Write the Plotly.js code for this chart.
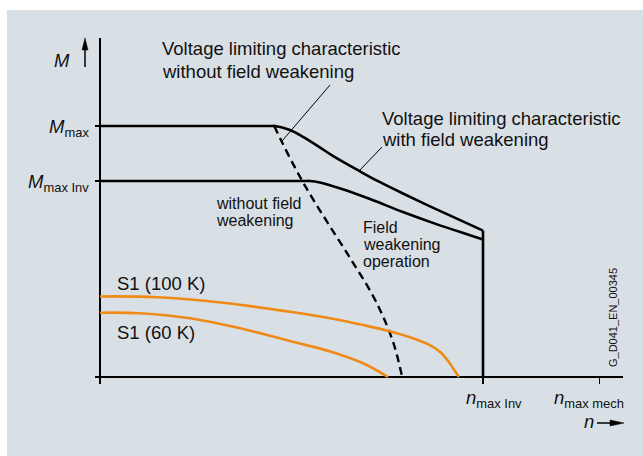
<!DOCTYPE html>
<html><head><meta charset="utf-8">
<script src="https://cdn.plot.ly/plotly-3.0.1.min.js"></script>
<style>html,body{margin:0;padding:0;background:#fff}#chart{width:643px;height:456px}</style>
</head><body><div id="chart"></div>
<script>
// speed n normalised to n_max Inv = 1, torque M normalised to M_max = 1
const withFieldWeakN = [0, 0.2, 0.4, 0.447, 0.457, 0.496, 0.530, 0.567, 0.608, 0.679, 0.726, 0.791, 0.880, 0.966, 1.0];
const withFieldWeakM = [1.0, 1.0, 1.0, 1.0, 1.0, 0.984, 0.957, 0.922, 0.881, 0.819, 0.780, 0.731, 0.667, 0.607, 0.583];

const fieldWeakOpN = [0, 0.2, 0.4, 0.536, 0.548, 0.574, 0.634, 0.705, 0.791, 0.880, 0.966, 1.0];
const fieldWeakOpM = [0.781, 0.781, 0.781, 0.781, 0.781, 0.775, 0.748, 0.709, 0.657, 0.608, 0.565, 0.548];

const limitN = [1.0, 1.0];
const limitM = [0.583, 0];

const withoutFieldWeakN = [0.455, 0.475, 0.504, 0.530, 0.556, 0.593, 0.653, 0.710, 0.739, 0.762, 0.775, 0.789];
const withoutFieldWeakM = [1.0, 0.936, 0.849, 0.776, 0.709, 0.618, 0.474, 0.331, 0.241, 0.154, 0.089, 0];

const s1_100K_N = [0, 0.149, 0.321, 0.496, 0.601, 0.687, 0.752, 0.817, 0.862, 0.888, 0.909, 0.924, 0.937];
const s1_100K_M = [0.321, 0.318, 0.296, 0.260, 0.234, 0.207, 0.184, 0.154, 0.126, 0.100, 0.064, 0.030, 0];

const s1_60K_N = [0, 0.104, 0.235, 0.366, 0.496, 0.601, 0.687, 0.752];
const s1_60K_M = [0.256, 0.254, 0.234, 0.194, 0.143, 0.102, 0.055, 0];

const tickN = [1.0, 1.305];
const tickNLabels = ['<i>n</i><sub>max Inv</sub>', '<i>n</i><sub>max mech</sub>'];
const tickM = [1.0, 0.781];
const tickMLabels = ['<i>M</i><sub>max</sub>', '<i>M</i><sub>max Inv</sub>'];

const FONT = 'Liberation Sans, Arial, sans-serif';
const TXT = '#111111';
const BG = '#d9e0e5';
const ORANGE = '#ef8a17';

// layout geometry (pixels of the 643x456 page)
const L = 95, R = 20, T = 38, B = 72, W = 643 - L - R, H = 456 - T - B;
const px = x => (x - L) / W;
const py = y => (456 - B - y) / H;
const pt = (x, y) => px(x) + ',' + py(y);

function label(text, x, y, size, opts) {
  return Object.assign({
    text: text, xref: 'paper', yref: 'paper', x: px(x), y: py(y),
    xanchor: 'left', yanchor: 'middle', showarrow: false,
    font: {family: FONT, size: size, color: TXT}
  }, opts || {});
}

const SPL = {shape: 'spline', smoothing: 1};
const traces = [
  {x: withFieldWeakN, y: withFieldWeakM, mode: 'lines', line: Object.assign({color: '#000', width: 2.6}, SPL)},
  {x: fieldWeakOpN, y: fieldWeakOpM, mode: 'lines', line: Object.assign({color: '#000', width: 2.6}, SPL)},
  {x: limitN, y: limitM, mode: 'lines', line: {color: '#000', width: 2.6}},
  {x: withoutFieldWeakN, y: withoutFieldWeakM, mode: 'lines', line: Object.assign({color: '#000', width: 2.4, dash: '8px,5px'}, SPL)},
  {x: s1_100K_N, y: s1_100K_M, mode: 'lines', line: Object.assign({color: ORANGE, width: 2.6}, SPL)},
  {x: s1_60K_N, y: s1_60K_M, mode: 'lines', line: Object.assign({color: ORANGE, width: 2.6}, SPL)}
];

const annotations = [
  label('Voltage limiting characteristic', 160, 48, 18.5),
  label('without field weakening', 160, 71, 18.5),
  label('Voltage limiting characteristic', 380, 118, 18.5),
  label('with field weakening', 380, 139, 18.5),
  label('without field', 214, 203, 16),
  label('weakening', 214, 220, 16),
  label('Field', 361, 227, 16),
  label('weakening', 361, 244, 16),
  label('operation', 361, 261, 16),
  label('S1 (100 K)', 115, 283, 18.5),
  label('S1 (60 K)', 115, 332, 18.5),
  label('<i>M</i>', 62, 60, 18.5, {xanchor: 'center'}),
  label('<i>n</i>', 589, 421, 18.5, {xanchor: 'center'}),
  label('G_D041_EN_00345', 613, 318, 11, {xanchor: 'center', textangle: -90})
];
tickM.forEach((m, i) => annotations.push({
  text: tickMLabels[i], xref: 'paper', yref: 'y', x: px(91), y: m, xanchor: 'right', yanchor: 'middle',
  yshift: -2, showarrow: false, font: {family: FONT, size: 18.5, color: TXT}
}));
const tickShift = [11, -11];
tickN.forEach((n, i) => annotations.push({
  text: tickNLabels[i], xref: 'x', yref: 'paper', x: n, y: py(384), xanchor: 'center', yanchor: 'top',
  xshift: tickShift[i], yshift: -1, showarrow: false, font: {family: FONT, size: 18.5, color: TXT}
}));

const shapes = [
  {type: 'rect', xref: 'paper', yref: 'paper', x0: px(0), x1: px(643), y0: py(10), y1: py(0), fillcolor: '#fff', line: {width: 0}, layer: 'below'},
  {type: 'rect', xref: 'paper', yref: 'paper', x0: px(0), x1: px(7), y0: py(456), y1: py(0), fillcolor: '#fff', line: {width: 0}, layer: 'below'},
  // leader lines
  {type: 'line', xref: 'paper', yref: 'paper', x0: px(330), y0: py(85), x1: px(282), y1: py(141), line: {color: '#000', width: 1}},
  {type: 'line', xref: 'paper', yref: 'paper', x0: px(382), y0: py(147), x1: px(360), y1: py(170), line: {color: '#000', width: 1}},
  // M axis arrow
  {type: 'line', xref: 'paper', yref: 'paper', x0: px(85), y0: py(67), x1: px(85), y1: py(48), line: {color: '#000', width: 1.5}},
  {type: 'path', xref: 'paper', yref: 'paper', path: 'M' + pt(85, 38) + ' L' + pt(88, 50) + ' L' + pt(82, 50) + ' Z',
   fillcolor: '#000', line: {color: '#000', width: 0.5}},
  // n axis arrow
  {type: 'line', xref: 'paper', yref: 'paper', x0: px(597), y0: py(423), x1: px(612), y1: py(423), line: {color: '#000', width: 1.5}},
  {type: 'path', xref: 'paper', yref: 'paper', path: 'M' + pt(624, 423) + ' L' + pt(610, 420) + ' L' + pt(610, 426) + ' Z',
   fillcolor: '#000', line: {color: '#000', width: 0.5}}
];

const layout = {
  width: 643, height: 456,
  margin: {l: L, r: R, t: T, b: B, pad: 0},
  paper_bgcolor: BG, plot_bgcolor: BG,
  showlegend: false,
  xaxis: {range: [(L - 100) / 383, (643 - R - 100) / 383], showgrid: false, showline: false,
          zeroline: true, zerolinecolor: '#000', zerolinewidth: 1.5,
          tickmode: 'array', tickvals: tickN, ticks: 'inside', ticklen: 7, tickwidth: 1.2, tickcolor: '#000',
          showticklabels: false, fixedrange: true},
  yaxis: {range: [(377 - 384) / 251, (377 - 38) / 251], showgrid: false, showline: false,
          zeroline: true, zerolinecolor: '#000', zerolinewidth: 1.5,
          tickmode: 'array', tickvals: tickM, ticks: 'inside', ticklen: 5, tickwidth: 1.2, tickcolor: '#000',
          showticklabels: false, fixedrange: true},
  annotations: annotations,
  shapes: shapes
};

Plotly.newPlot('chart', traces, layout, {displayModeBar: false, staticPlot: true});
</script>
</body></html>
